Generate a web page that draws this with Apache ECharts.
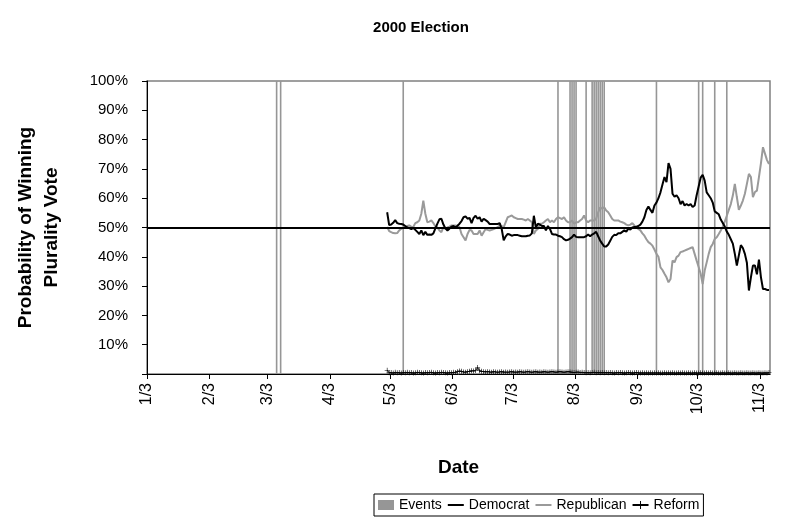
<!DOCTYPE html>
<html><head><meta charset="utf-8">
<script src="https://cdn.jsdelivr.net/npm/echarts@6/dist/echarts.min.js"></script>
<style>html,body{margin:0;padding:0;background:#fff}#c{width:789px;height:532px}</style>
</head><body><div id="c"></div>
<script>
// ---- data ----
const tickLabels = ['1/3','2/3','3/3','4/3','5/3','6/3','7/3','8/3','9/3','10/3','11/3'];
const chartYear = 2000;
const axisEndDate = '2000-11-08';
const seriesStartDate = '2000-05-01'; // daily values from this date
const democrat = [
0.552,0.508,0.51,0.516,0.525,0.515,0.513,0.512,0.51,0.505,
0.5,0.498,0.495,0.498,0.492,0.485,0.478,0.49,0.474,0.485,
0.475,0.476,0.475,0.48,0.497,0.513,0.528,0.53,0.51,0.497,
0.49,0.496,0.503,0.505,0.5,0.506,0.513,0.522,0.535,0.538,
0.53,0.533,0.515,0.533,0.54,0.53,0.535,0.52,0.53,0.525,
0.52,0.512,0.512,0.512,0.512,0.512,0.515,0.495,0.456,0.47,
0.478,0.476,0.472,0.474,0.474,0.474,0.472,0.47,0.47,0.47,
0.472,0.473,0.48,0.54,0.5,0.513,0.51,0.505,0.505,0.49,
0.505,0.495,0.478,0.476,0.476,0.472,0.47,0.467,0.46,0.456,
0.458,0.462,0.467,0.476,0.468,0.467,0.467,0.467,0.467,0.47,
0.476,0.47,0.476,0.48,0.485,0.47,0.455,0.445,0.435,0.435,
0.442,0.455,0.468,0.475,0.474,0.48,0.48,0.485,0.49,0.486,
0.496,0.493,0.5,0.502,0.503,0.505,0.51,0.52,0.535,0.56,
0.572,0.56,0.55,0.575,0.585,0.6,0.62,0.647,0.672,0.655,
0.72,0.7,0.615,0.605,0.61,0.6,0.58,0.59,0.575,0.58,
0.575,0.58,0.57,0.575,0.61,0.64,0.67,0.68,0.66,0.62,
0.61,0.6,0.585,0.555,0.55,0.545,0.527,0.515,0.503,0.486,
0.475,0.46,0.445,0.41,0.37,0.405,0.44,0.43,0.41,0.38,
0.285,0.33,0.37,0.37,0.34,0.39,0.33,0.29,0.29,0.287,0.287
];
const republican = [
0.502,0.488,0.484,0.481,0.48,0.481,0.49,0.496,0.498,0.501,
0.505,0.507,0.503,0.502,0.515,0.518,0.524,0.547,0.592,0.547,
0.518,0.52,0.524,0.515,0.503,0.5,0.49,0.484,0.501,0.495,
0.5,0.503,0.507,0.507,0.507,0.505,0.501,0.478,0.467,0.456,
0.478,0.492,0.49,0.478,0.478,0.478,0.49,0.472,0.484,0.495,
0.492,0.49,0.492,0.495,0.498,0.501,0.507,0.505,0.501,0.518,
0.535,0.538,0.541,0.535,0.532,0.529,0.529,0.529,0.527,0.524,
0.529,0.524,0.518,0.478,0.49,0.495,0.513,0.513,0.518,0.524,
0.529,0.518,0.524,0.518,0.529,0.535,0.532,0.529,0.535,0.524,
0.518,0.518,0.524,0.513,0.518,0.518,0.524,0.529,0.541,0.524,
0.518,0.524,0.524,0.524,0.53,0.552,0.569,0.564,0.569,0.558,
0.552,0.541,0.529,0.524,0.524,0.524,0.52,0.518,0.515,0.51,
0.507,0.51,0.515,0.507,0.501,0.495,0.49,0.48,0.472,0.46,
0.45,0.445,0.438,0.425,0.41,0.4,0.364,0.355,0.342,0.33,
0.313,0.324,0.387,0.381,0.399,0.404,0.416,0.418,0.421,0.424,
0.427,0.43,0.433,0.41,0.387,0.365,0.342,0.307,0.353,0.381,
0.41,0.433,0.444,0.461,0.467,0.478,0.49,0.503,0.52,0.54,
0.56,0.58,0.609,0.649,0.604,0.56,0.575,0.592,0.615,0.649,
0.683,0.672,0.604,0.621,0.626,0.672,0.72,0.774,0.752,0.73,0.717
];
const reform = [
0.013,0.004,0.005,0.003,0.006,0.004,0.005,0.003,0.005,0.004,
0.006,0.004,0.005,0.003,0.004,0.006,0.005,0.004,0.003,0.005,
0.004,0.005,0.006,0.004,0.003,0.005,0.004,0.006,0.005,0.004,
0.003,0.005,0.004,0.006,0.005,0.008,0.01,0.009,0.007,0.006,
0.008,0.009,0.011,0.01,0.012,0.022,0.011,0.009,0.008,0.007,
0.008,0.007,0.006,0.008,0.007,0.006,0.007,0.008,0.006,0.007,
0.006,0.007,0.008,0.006,0.007,0.006,0.008,0.007,0.006,0.007,
0.008,0.007,0.006,0.007,0.008,0.006,0.007,0.006,0.008,0.007,
0.006,0.007,0.008,0.007,0.006,0.007,0.008,0.007,0.006,0.007,
0.008,0.007,0.006,0.005,0.006,0.007,0.005,0.006,0.005,0.004,
0.005,0.004,0.005,0.006,0.004,0.005,0.004,0.005,0.004,0.005,
0.004,0.005,0.004,0.003,0.005,0.004,0.005,0.004,0.003,0.004,
0.005,0.004,0.003,0.004,0.005,0.004,0.003,0.004,0.003,0.004,
0.003,0.004,0.003,0.004,0.003,0.004,0.003,0.003,0.004,0.003,
0.004,0.003,0.004,0.003,0.003,0.004,0.003,0.004,0.003,0.003,
0.004,0.003,0.003,0.004,0.003,0.003,0.004,0.003,0.003,0.004,
0.003,0.004,0.003,0.003,0.004,0.003,0.003,0.004,0.003,0.003,
0.004,0.003,0.003,0.004,0.003,0.003,0.004,0.003,0.003,0.004,
0.003,0.003,0.004,0.003,0.003,0.004,0.003,0.003,0.004,0.003,0.005
];
const eventDates = [
'2000-03-07','2000-03-09','2000-05-09','2000-07-25','2000-07-31',
'2000-08-01','2000-08-02','2000-08-03','2000-08-08',
'2000-08-11','2000-08-12','2000-08-13','2000-08-14','2000-08-15',
'2000-08-16','2000-08-17','2000-09-12',
'2000-10-03','2000-10-05','2000-10-11','2000-10-17'
];
const eventValue = 1;
const referenceLevel = 0.5;

// ---- build ----
const DAY = 86400000;
function ts(s){ const p = s.split('-'); return Date.UTC(+p[0], +p[1]-1, +p[2]); }
const tickValues = tickLabels.map(l => { const p = l.split('/'); return Date.UTC(chartYear, +p[0]-1, +p[1]); });
const xMin = tickValues[0];
const xMax = ts(axisEndDate);
const start = ts(seriesStartDate);
const mid = DAY / 2; // place each day in the middle of its slot
const demData = democrat.map((v,i) => [start + i*DAY + mid, v]);
const repData = republican.map((v,i) => [start + i*DAY + mid, v]);
const refData = reform.map((v,i) => [start + i*DAY + mid, v]);
const evtData = eventDates.map(d => [ts(d) + mid, eventValue]);

const FONT = 'Liberation Sans, Arial, Helvetica, sans-serif';
const plusPath = 'path://M4.4,0H5.6V10H4.4Z M0,4.4H10V5.6H0Z';

const chart = echarts.init(document.getElementById('c'), null, {renderer:'canvas'});
chart.setOption({
  animation: false,
  backgroundColor: '#fff',
  textStyle: { fontFamily: FONT, color: '#000' },
  title: {
    text: '2000 Election',
    left: 416, top: 15, textAlign: 'center',
    textStyle: { fontFamily: FONT, fontWeight: 'bold', fontSize: 15, color: '#000' }
  },
  grid: {
    left: 147, right: 19, top: 81, bottom: 158,
    show: true, borderColor: '#808080', borderWidth: 1.5, backgroundColor: '#fff'
  },
  legend: {
    left: 374, top: 494,
    padding: [4, 4],
    itemGap: 5, itemWidth: 16, itemHeight: 10,
    borderColor: '#000', borderWidth: 1,
    textStyle: { fontFamily: FONT, fontSize: 14, color: '#000' },
    data: [
      { name: 'Events', icon: 'rect' },
      { name: 'Democrat', itemStyle: { opacity: 0 } },
      { name: 'Republican', itemStyle: { opacity: 0 } },
      { name: 'Reform' }
    ]
  },
  xAxis: {
    type: 'value',
    min: xMin, max: xMax,
    name: 'Date', nameLocation: 'middle', nameGap: 84,
    nameTextStyle: { fontFamily: FONT, fontWeight: 'bold', fontSize: 19, color: '#000' },
    axisLine: { show: true, onZero: false, lineStyle: { color: '#000', width: 1 } },
    axisTick: { show: true, length: 5, customValues: tickValues, lineStyle: { color: '#000' } },
    axisLabel: {
      rotate: 90, margin: 9, fontSize: 16, color: '#000', fontFamily: FONT,
      customValues: tickValues,
      formatter: function (v) { const i = tickValues.indexOf(v); return i >= 0 ? tickLabels[i] : ''; }
    },
    splitLine: { show: false }
  },
  yAxis: {
    type: 'value', min: 0, max: 1, interval: 0.1,
    name: 'Probability of Winning\nPlurality Vote', nameLocation: 'middle', nameGap: 82,
    nameTextStyle: { fontFamily: FONT, fontWeight: 'bold', fontSize: 19, lineHeight: 26, color: '#000' },
    axisLine: { show: true, lineStyle: { color: '#000', width: 1 } },
    axisTick: { show: true, length: 5, lineStyle: { color: '#000' } },
    axisLabel: {
      margin: 19, fontSize: 15, color: '#000', fontFamily: FONT,
      formatter: function (v) { return v === 0 ? '' : Math.round(v*100) + '%'; }
    },
    splitLine: { show: false }
  },
  series: [
    {
      name: 'Events', type: 'bar', data: evtData,
      barWidth: 1.6, itemStyle: { color: '#969696' }, z: 1
    },
    {
      name: 'Democrat', type: 'line', data: demData,
      showSymbol: false, symbol: 'none',
      lineStyle: { color: '#000', width: 2 }, itemStyle: { color: '#000' }, z: 4,
      markLine: {
        silent: true, symbol: 'none', label: { show: false },
        lineStyle: { color: '#000', width: 2, type: 'solid' },
        data: [{ yAxis: referenceLevel }]
      }
    },
    {
      name: 'Republican', type: 'line', data: repData,
      showSymbol: false, symbol: 'none',
      lineStyle: { color: '#9a9a9a', width: 2 }, itemStyle: { color: '#9a9a9a' }, z: 3
    },
    {
      name: 'Reform', type: 'line', data: refData,
      symbol: plusPath, symbolSize: 5, showSymbol: true,
      lineStyle: { color: '#000', width: 1 }, itemStyle: { color: '#000' }, z: 2
    }
  ]
});
</script>
</body></html>
